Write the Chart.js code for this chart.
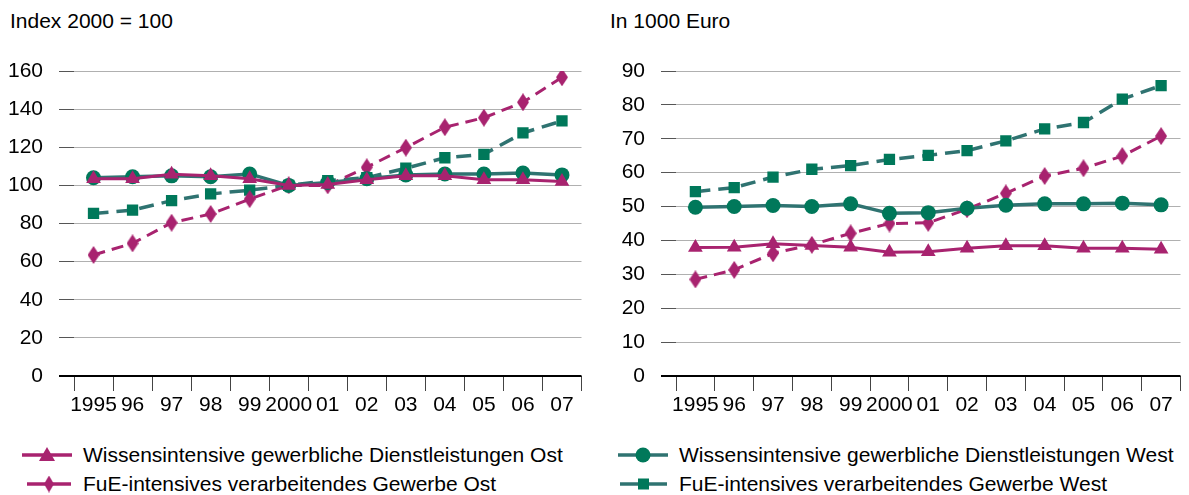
<!DOCTYPE html>
<html>
<head>
<meta charset="utf-8">
<script src="https://cdn.jsdelivr.net/npm/chart.js@4.4.1/dist/chart.umd.min.js"></script>
<style>
    body { margin: 0; background: #fff; font-family: Arial, 'Liberation Sans', sans-serif; }
    #wrap { position: relative; width: 1189px; height: 495px; overflow: hidden; }
    .title { position: absolute; top: 9px; font-size: 21px; color: #000; line-height: 24px; }
    .box { position: absolute; top: 0; height: 430px; }
    .legend-item { position: absolute; font-size: 21px; line-height: 24px; color: #000; white-space: nowrap; }
    .legend-item canvas { position: absolute; left: 0; top: 2px; }
    .legend-item span { position: absolute; top: 0; }
</style>
</head>
<body>
<div id="wrap">
    <div class="title" style="left: 10px;">Index 2000 = 100</div>
    <div class="title" style="left: 610px;">In 1000 Euro</div>
    <div class="box" style="left: 0; width: 590px;"><canvas id="chartIndex"></canvas></div>
    <div class="box" style="left: 600px; width: 589px;"><canvas id="chartEuro"></canvas></div>
    <div id="legend"></div>
</div>
<script>
// categories
const years = ['1995', '96', '97', '98', '99', '2000', '01', '02', '03', '04', '05', '06', '07'];

// left chart: Index 2000 = 100
const indexWissOst  = [103.5, 103.5, 105.8, 105, 103.5, 100, 100.5, 103, 105, 105, 103, 103, 102];
const indexWissWest = [104, 104.5, 105, 104.5, 106, 100, 101.5, 103.5, 105.5, 106, 106, 106.5, 105.5];
const indexFueOst   = [63.5, 69.6, 80.4, 85, 92.8, 100, 100, 109.5, 119.8, 130.5, 135.5, 143.6, 156.7];
const indexFueWest  = [85.3, 87, 92, 95.5, 97.5, 100, 102.5, 104, 109, 114.5, 116.3, 127.5, 133.8];

// right chart: in 1000 Euro
const euroWissOst  = [37.9, 38, 39, 38.5, 38, 36.5, 36.7, 37.7, 38.4, 38.4, 37.7, 37.7, 37.4];
const euroWissWest = [49.8, 50, 50.3, 50, 50.8, 48, 48.2, 49.5, 50.4, 50.8, 50.8, 51, 50.5];
const euroFueOst   = [28.5, 31.3, 36.2, 38.7, 42.1, 45, 45.2, 49.2, 53.9, 59, 61.3, 64.9, 70.8];
const euroFueWest  = [54.4, 55.6, 58.7, 61, 62.1, 63.9, 65.1, 66.5, 69.4, 72.9, 74.8, 81.7, 85.7];

const seriesNames = [
    'Wissensintensive gewerbliche Dienstleistungen Ost',
    'Wissensintensive gewerbliche Dienstleistungen West',
    'FuE-intensives verarbeitendes Gewerbe Ost',
    'FuE-intensives verarbeitendes Gewerbe West'
];

const magenta = '#a8236f';
const tealLine = '#2f7371';
const green = '#00785a';
const FONT = "Arial, 'Liberation Sans', sans-serif";

// tall diamond marker (Chart.js rectRot is square)
function makeDiamond(w, h, color) {
    const c = document.createElement('canvas');
    c.width = w; c.height = h;
    const g = c.getContext('2d');
    g.fillStyle = color;
    g.beginPath();
    g.moveTo(w / 2, 0);
    g.lineTo(w, h / 2);
    g.lineTo(w / 2, h);
    g.lineTo(0, h / 2);
    g.closePath();
    g.fill();
    return c;
}
const diamond = makeDiamond(12, 18, magenta);

const styles = [
    { borderColor: magenta, pointBackgroundColor: magenta, pointStyle: 'triangle', pointRadius: 8.5, borderWidth: 3, borderDash: [] },
    { borderColor: tealLine, pointBackgroundColor: green, pointStyle: 'circle', pointRadius: 7.5, borderWidth: 3.5, borderDash: [] },
    { borderColor: magenta, pointBackgroundColor: magenta, pointStyle: diamond, pointRadius: 8, borderWidth: 3, borderDash: [12, 7] },
    { borderColor: tealLine, pointBackgroundColor: green, pointStyle: 'rect', pointRadius: 8, borderWidth: 3.5, borderDash: [15, 8] }
];

function buildDatasets(values) {
    return values.map((data, i) => ({
        label: seriesNames[i],
        data,
        ...styles[i],
        pointBorderWidth: 0,
        pointBorderColor: styles[i].pointBackgroundColor,
        pointHoverRadius: styles[i].pointRadius,
        tension: 0,
        fill: false
    }));
}

function createChart(canvasId, values, max, step, yWidth, padRight) {
    return new Chart(document.getElementById(canvasId), {
        type: 'line',
        data: { labels: years, datasets: buildDatasets(values) },
        options: {
            responsive: true,
            maintainAspectRatio: false,
            animation: false,
            layout: { padding: { top: 71, right: padRight, left: 0, bottom: 0 } },
            plugins: { legend: { display: false }, tooltip: { enabled: false } },
            scales: {
                x: {
                    offset: true,
                    border: { display: false },
                    grid: {
                        offset: true,
                        drawOnChartArea: false,
                        drawTicks: true,
                        tickLength: 15,
                        tickColor: '#444',
                        lineWidth: 1
                    },
                    ticks: {
                        color: '#000',
                        font: { family: FONT, size: 21 },
                        padding: 2,
                        maxRotation: 0,
                        autoSkip: false
                    },
                    afterFit: (scale) => { scale.height = 54; }
                },
                y: {
                    min: 0,
                    max,
                    border: { display: false },
                    grid: {
                        color: (c) => c.tick && c.tick.value === 0 ? '#000' : '#b0b0b0',
                        tickColor: (c) => c.tick && c.tick.value === 0 ? '#000' : '#555',
                        lineWidth: (c) => c.tick && c.tick.value === 0 ? 2 : 1,
                        tickLength: 15
                    },
                    ticks: {
                        stepSize: step,
                        color: '#000',
                        font: { family: FONT, size: 21 },
                        padding: 16
                    },
                    afterFit: (scale) => { scale.width = yWidth; }
                }
            }
        }
    });
}

createChart('chartIndex', [indexWissOst, indexWissWest, indexFueOst, indexFueWest], 160, 20, 74, 2);
createChart('chartEuro', [euroWissOst, euroWissWest, euroFueOst, euroFueWest], 90, 10, 76, 0);

// legend in 2x2 grid
const legendPos = [
    { left: 20, top: 443, line: [2, 52] },
    { left: 616, top: 443, line: [2, 52] },
    { left: 20, top: 472, line: [7, 51] },
    { left: 616, top: 472, line: [4, 51] }
];
const legendEl = document.getElementById('legend');
legendPos.forEach((p, i) => {
    const st = styles[i];
    const item = document.createElement('div');
    item.className = 'legend-item';
    item.style.left = p.left + 'px';
    item.style.top = p.top + 'px';
    const icon = document.createElement('canvas');
    icon.width = 56; icon.height = 20;
    const g = icon.getContext('2d');
    g.strokeStyle = st.borderColor;
    g.lineWidth = 3.5;
    g.beginPath();
    g.moveTo(p.line[0], 10);
    g.lineTo(p.line[1], 10);
    g.stroke();
    g.fillStyle = st.pointBackgroundColor;
    const cx = (p.line[0] + p.line[1]) / 2;
    if (st.pointStyle === 'triangle') {
        g.beginPath();
        g.moveTo(cx, 2); g.lineTo(cx + 8, 16); g.lineTo(cx - 8, 16); g.closePath(); g.fill();
    } else if (st.pointStyle === 'circle') {
        g.beginPath(); g.arc(cx, 10, 7.5, 0, Math.PI * 2); g.fill();
    } else if (st.pointStyle === 'rect') {
        g.fillRect(cx - 5.5, 4.5, 11, 11);
    } else {
        g.drawImage(makeDiamond(10, 17, magenta), cx - 5, 1.5);
    }
    item.appendChild(icon);
    const span = document.createElement('span');
    span.style.left = '63px';
    span.textContent = seriesNames[i];
    item.appendChild(span);
    legendEl.appendChild(item);
});
</script>
</body>
</html>
